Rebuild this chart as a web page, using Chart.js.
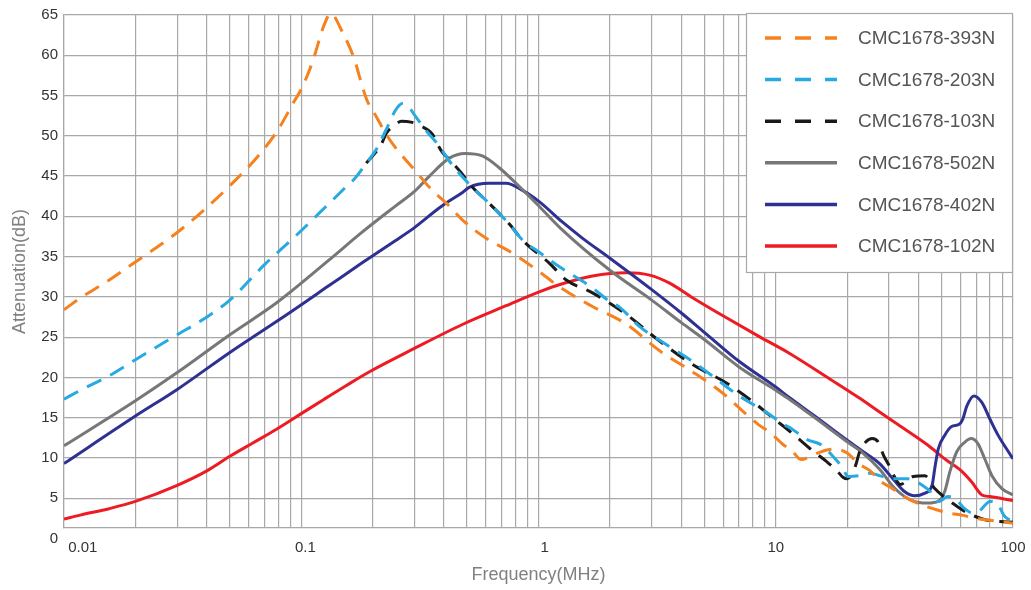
<!DOCTYPE html>
<html>
<head>
<meta charset="utf-8">
<title>CMC1678 attenuation</title>
<script src="https://cdn.jsdelivr.net/npm/chart.js@4.4.0/dist/chart.umd.min.js"></script>
<style>
  html, body { margin: 0; padding: 0; background: #fff; }
  canvas { display: block; }
</style>
</head>
<body>
<canvas id="attenuation" width="1031" height="590"></canvas>
<script>
// values (frequency in MHz, attenuation in dB)
const freq393 = [0.01, 0.0119, 0.015, 0.0197, 0.03, 0.04, 0.05, 0.065, 0.08, 0.093, 0.1, 0.111, 0.125, 0.133, 0.149, 0.167, 0.181, 0.19, 0.207, 0.23, 0.25, 0.31, 0.347, 0.42, 0.48, 0.6, 0.78, 1, 1.23, 1.69, 2.35, 3.24, 4.46, 6, 7.2, 8.4, 9.6, 10.7, 11.7, 12.8, 14.2, 16, 18, 20, 22.3, 25, 27.4, 31, 34.3, 39.5, 48.4, 54.5, 61, 69, 78.6, 100];
const att393 = [28.4, 30.0, 31.8, 34.2, 38.0, 41.1, 43.8, 47.3, 50.8, 54.2, 55.8, 59.0, 63.8, 65.2, 62.9, 59.6, 56.1, 54.3, 52.4, 50.0, 48.5, 45.3, 43.6, 41.3, 39.5, 37.3, 35.4, 33.2, 31.2, 28.8, 26.6, 23.3, 20.7, 18.0, 15.9, 14.2, 13.0, 11.7, 10.9, 9.8, 10.3, 10.9, 11.1, 10.6, 9.3, 8.4, 7.2, 6.2, 5.3, 4.4, 3.5, 3.1, 2.9, 2.5, 2.3, 1.9];

const freq203 = [0.01, 0.0119, 0.0155, 0.02, 0.03, 0.04, 0.05, 0.07, 0.095, 0.13, 0.155, 0.167, 0.188, 0.207, 0.23, 0.25, 0.267, 0.285, 0.3, 0.337, 0.38, 0.42, 0.51, 0.62, 0.75, 0.86, 1, 1.23, 1.69, 2, 2.2, 2.67, 3.24, 4.2, 5.4, 7, 9.2, 10.6, 11.7, 13.5, 15.6, 17.3, 19.2, 20.1, 22.6, 25, 27.4, 31, 36, 41.5, 44.8, 46.8, 49, 53, 57, 62, 67, 72, 80, 86, 92, 100];
const att203 = [17.3, 18.5, 20.2, 22.2, 25.3, 27.5, 29.6, 34.0, 37.6, 41.5, 43.7, 44.6, 46.6, 48.3, 51.0, 53.2, 54.0, 53.5, 52.6, 50.6, 48.8, 46.9, 44.0, 41.6, 39.1, 37.0, 35.6, 33.7, 31.1, 29.4, 28.7, 26.3, 24.6, 22.5, 20.2, 17.7, 15.6, 14.3, 13.6, 12.3, 11.6, 10.3, 8.7, 7.7, 7.8, 8.1, 7.8, 7.4, 7.4, 6.6, 5.8, 4.8, 4.6, 5.2, 5.0, 3.8, 3.2, 3.4, 4.6, 4.3, 2.8, 2.1];

const freq103 = [0.188, 0.218, 0.228, 0.245, 0.264, 0.29, 0.315, 0.357, 0.37, 0.394, 0.413, 0.473, 0.52, 0.62, 0.75, 0.86, 1.11, 1.31, 1.69, 2.35, 3.24, 4.46, 6.2, 8, 9.7, 11.8, 14.3, 16.3, 18, 19.2, 20, 21.6, 22.6, 24, 25.5, 27, 28.5, 30, 32, 33.5, 35.5, 38, 42.5, 46.8, 51, 58, 65, 77, 100];
const att103 = [46.6, 49.0, 50.3, 51.2, 51.8, 51.7, 51.3, 50.2, 49.3, 47.9, 47.3, 45.4, 43.8, 41.6, 39.1, 37.0, 34.2, 32.1, 30.5, 27.8, 24.5, 21.6, 19.3, 17.0, 15.0, 13.0, 10.9, 9.6, 8.5, 7.6, 7.4, 8.9, 10.8, 12.0, 12.4, 12.0, 10.3, 9.1, 7.4, 6.7, 7.1, 7.7, 7.8, 6.2, 5.2, 4.0, 3.1, 2.3, 2.0];

const freq502 = [0.01, 0.02, 0.03, 0.05, 0.079, 0.13, 0.18, 0.25, 0.3, 0.347, 0.42, 0.49, 0.58, 0.685, 0.81, 0.98, 1.23, 2, 3, 4, 5, 7, 10, 11.4, 14.3, 20, 23.3, 27.4, 31.8, 37.5, 43.7, 48.4, 51.5, 54.2, 58, 62.9, 66.5, 71, 76, 81.5, 89.8, 100];
const att502 = [11.5, 17.1, 20.6, 25.3, 29.3, 34.5, 38.0, 41.3, 43.1, 45.0, 47.2, 47.8, 47.5, 46.0, 44.0, 41.6, 38.6, 33.3, 29.6, 26.8, 24.7, 21.3, 18.4, 17.3, 15.2, 12.0, 10.6, 8.6, 6.2, 4.7, 4.4, 4.6, 5.8, 8.3, 10.8, 12.0, 12.4, 11.8, 9.9, 7.8, 6.2, 5.4];

const freq402 = [0.01, 0.02, 0.03, 0.05, 0.089, 0.131, 0.18, 0.25, 0.3, 0.38, 0.42, 0.48, 0.51, 0.62, 0.73, 0.86, 1.01, 1.26, 1.53, 2, 3, 4, 5, 7, 10, 11.4, 14.3, 20, 23.3, 27.4, 31.8, 35, 38.5, 42.3, 45.6, 46.8, 48.4, 51.5, 55.1, 59.6, 61.4, 63.8, 68.4, 73.9, 80, 86.6, 95.5, 100];
const att402 = [9.3, 15.2, 18.5, 23.1, 28.0, 31.4, 34.2, 37.0, 38.6, 41.0, 41.9, 43.0, 43.6, 44.1, 44.1, 43.2, 41.8, 39.3, 37.3, 34.8, 30.9, 28.0, 25.6, 22.0, 18.8, 17.5, 15.4, 12.2, 10.8, 9.3, 7.1, 5.8, 5.3, 5.6, 6.6, 8.7, 11.1, 12.8, 13.9, 14.2, 14.8, 16.4, 17.7, 16.9, 14.8, 12.8, 10.8, 9.9];

const freq102 = [0.01, 0.0117, 0.0155, 0.02, 0.03, 0.04, 0.05, 0.062, 0.079, 0.1, 0.125, 0.155, 0.194, 0.3, 0.48, 0.73, 1.0, 1.25, 1.69, 2.35, 2.94, 3.57, 4.46, 6.2, 8.6, 11.4, 16.9, 22.6, 27.4, 31.8, 43.7, 52, 61, 67, 74, 80, 100];
const att102 = [2.4, 2.9, 3.7, 4.6, 6.6, 8.4, 10.2, 11.8, 13.6, 15.5, 17.3, 19.0, 20.7, 23.6, 26.6, 28.9, 30.6, 31.6, 32.6, 33.0, 32.7, 31.7, 29.9, 27.4, 25.0, 23.0, 19.8, 17.4, 15.7, 14.4, 11.6, 9.8, 8.3, 7.0, 5.4, 5.2, 4.7];

// axis ticks
const xDecades = [0.01, 0.1, 1, 10, 100];
const xTickLabels = ['0.01', '0.1', '1', '10', '100'];
const yTickValues = [0, 5, 10, 15, 20, 25, 30, 35, 40, 45, 50, 55, 60, 65];

const xGridValues = [];
xDecades.slice(0, -1).forEach(d => {
  for (let m = 1; m < 10; m++) xGridValues.push(Number((d * m).toPrecision(3)));
});
xGridValues.push(100);

// labels in the original sit a little right of their grid line
const labelNudge = { '0.01': '         ', '0.1': '  ', '1': '   ' };

const pts = (f, a) => f.map((v, i) => ({ x: v, y: a[i] }));
const GRID = '#a8a8a8';
const FONT = '"Liberation Sans", Arial, sans-serif';

// boxed legend in the upper right corner of the plot
const legendBox = {
  id: 'legendBox',
  afterDraw(chart) {
    const { ctx, chartArea } = chart;
    const w = 267, h = 259;
    const left = chartArea.right - w, top = chartArea.top - 2;
    ctx.save();
    ctx.fillStyle = '#fff';
    ctx.fillRect(left, top, w, h);
    ctx.strokeStyle = GRID;
    ctx.lineWidth = 1.2;
    ctx.strokeRect(left + 0.5, top + 0.5, w - 1, h);
    chart.data.datasets.forEach((ds, i) => {
      const y = top + 25 + i * 41.6;
      ctx.strokeStyle = ds.borderColor;
      ctx.lineWidth = 3.5;
      ctx.setLineDash(ds.borderDash ? [16, 14] : []);
      ctx.beginPath();
      ctx.moveTo(left + 19, y);
      ctx.lineTo(left + 91, y);
      ctx.stroke();
      ctx.setLineDash([]);
      ctx.fillStyle = '#555';
      ctx.font = '19px ' + FONT;
      ctx.textBaseline = 'middle';
      ctx.fillText(ds.label, left + 112, y + 1);
    });
    ctx.restore();
  }
};

const ctx = document.getElementById('attenuation').getContext('2d');

new Chart(ctx, {
  type: 'line',
  data: {
    datasets: [
      { label: 'CMC1678-393N', data: pts(freq393, att393), borderColor: '#f5821f', borderDash: [16, 10] },
      { label: 'CMC1678-203N', data: pts(freq203, att203), borderColor: '#27aae1', borderDash: [16, 10] },
      { label: 'CMC1678-103N', data: pts(freq103, att103), borderColor: '#1a1a1a', borderDash: [16, 10] },
      { label: 'CMC1678-502N', data: pts(freq502, att502), borderColor: '#777777' },
      { label: 'CMC1678-402N', data: pts(freq402, att402), borderColor: '#2e3192' },
      { label: 'CMC1678-102N', data: pts(freq102, att102), borderColor: '#ed1c24' }
    ]
  },
  options: {
    responsive: false,
    animation: false,
    layout: { padding: { top: 13, right: 18, left: 0, bottom: 0 } },
    elements: {
      point: { radius: 0 },
      line: { borderWidth: 3, cubicInterpolationMode: 'monotone', fill: false }
    },
    plugins: {
      legend: { display: false },
      tooltip: { enabled: false }
    },
    scales: {
      x: {
        type: 'logarithmic',
        min: 0.01,
        max: 100,
        afterBuildTicks: s => { s.ticks = xGridValues.map(v => ({ value: v })); },
        afterFit: s => { s.height = 62; s.paddingLeft = 0; s.paddingRight = 0; },
        ticks: {
          autoSkip: false,
          maxRotation: 0,
          padding: 11,
          color: '#333',
          font: { family: FONT, size: 15 },
          callback: v => {
            const i = xDecades.findIndex(d => Math.abs(v / d - 1) < 1e-6);
            if (i < 0) return '';
            const t = xTickLabels[i];
            return (labelNudge[t] || '') + t;
          }
        },
        grid: { color: GRID, lineWidth: 1.2, drawTicks: false },
        border: { color: GRID, width: 1.2 },
        title: {
          display: true,
          text: 'Frequency(MHz)',
          color: '#808080',
          font: { family: FONT, size: 18 },
          padding: { top: 4, bottom: 4 }
        }
      },
      y: {
        min: 1.3,
        max: 65,
        afterBuildTicks: s => { s.ticks = yTickValues.map(v => ({ value: v })); },
        afterFit: s => { s.width = 64; },
        ticks: {
          autoSkip: false,
          padding: 6,
          color: '#333',
          font: { family: FONT, size: 15 }
        },
        grid: {
          color: c => (c.tick && c.tick.value < 1.3) ? 'rgba(0,0,0,0)' : GRID,
          lineWidth: 1.2,
          drawTicks: false
        },
        border: { color: GRID, width: 1.2 },
        title: {
          display: true,
          text: 'Attenuation(dB)',
          color: '#808080',
          font: { family: FONT, size: 18 },
          padding: { top: 9, bottom: 0 }
        }
      }
    }
  },
  plugins: [legendBox]
});
</script>
</body>
</html>
